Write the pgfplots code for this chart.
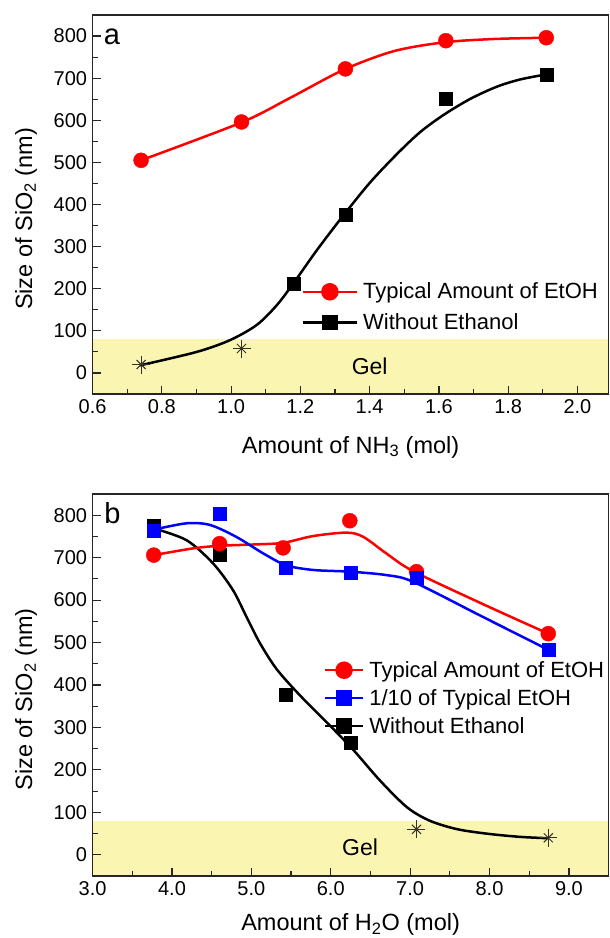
\documentclass[border=0pt]{standalone}
\usepackage{fontspec}
\setmainfont{Liberation Sans}
\usepackage{pgfplots}
\pgfplotsset{compat=1.18}
\definecolor{gel}{RGB}{250,246,178}
\definecolor{myred}{RGB}{255,0,0}
\definecolor{myblue}{RGB}{0,0,255}
\definecolor{stargray}{RGB}{50,50,40}
\pgfplotsset{
  base/.style={
    scale only axis, width=516pt,
    axis on top,
    axis line style={line width=1.3pt, black!85},
    tick align=inside, tick pos=left,
    major tick length=8pt, minor tick length=5pt,
    every tick/.style={black!85, line width=1.2pt},
    ymin=-50, ymax=850, ytick={0,100,...,800}, minor y tick num=1,
    /pgf/number format/assume math mode=true,
    tick label style={font=\fontsize{20}{24}\selectfont},
    yticklabel style={xshift=-2pt},
    xticklabel style={yshift=-2pt, /pgf/number format/fixed, /pgf/number format/fixed zerofill, /pgf/number format/precision=1},
    ylabel={Size of SiO\textsubscript{2} (nm)},
    every axis y label/.style={at={(rel axis cs:-0.129,0.462)}, rotate=90, anchor=center, font=\fontsize{23.5}{28}\selectfont},
    legend cell align=left,
    legend style={draw=none, fill=none, inner sep=0pt, font=\fontsize{22}{26}\selectfont,
      /tikz/every odd column/.append style={column sep=3pt}},
  },
  curve/.style={smooth, line width=2.5pt, no marks, forget plot},
  stars/.style={only marks, forget plot, mark options={line width=1pt, stargray}},
  dots/.style={only marks, forget plot},
}
\begin{document}
\begin{tikzpicture}
\useasboundingbox (0,0) rectangle (610pt,938pt);
% ---------------- panel a
\begin{axis}[base,
  at={(92.6pt,544pt)}, anchor=south west, height=379pt,
  xmin=0.6, xmax=2.09, xtick={0.6,0.8,...,2.01}, minor x tick num=1,
  xlabel={Amount of NH\textsubscript{3} (mol)},
  every axis x label/.style={at={(rel axis cs:0.5,-0.14)}, anchor=center, font=\fontsize{23.5}{28}\selectfont},
  legend style={at={(axis cs:1.203,156)}, anchor=west, row sep=9.5pt},
  legend image code/.code={\draw[mark repeat=2,mark phase=2,#1] plot coordinates {(0pt,0pt) (27pt,0pt) (54pt,0pt)};},
]
\addplot[fill=gel, draw=none, forget plot] coordinates {(0.6,-50) (2.09,-50) (2.09,80) (0.6,80)} -- cycle;
\addplot[curve, black] coordinates {(0.737,18) (0.901,50) (0.997,78) (1.074,114) (1.132,161) (1.18,213) (1.248,292) (1.325,375) (1.402,453) (1.479,520) (1.546,572) (1.614,613) (1.691,651) (1.768,680) (1.835,697) (1.91,709)};
\addplot[dots, mark=square*, mark size=6.5pt, black] coordinates {(1.18,212) (1.33,376) (1.62,652) (1.91,709)};
\addplot[stars, mark=+, mark size=9pt] coordinates {(0.74,20) (1.03,58)};
\addplot[stars, mark=x, mark size=6.4pt] coordinates {(0.74,20) (1.03,58)};
\addplot[curve, myred] coordinates {(0.74,505) (1.03,595) (1.17,653) (1.325,720) (1.469,764) (1.614,785) (1.758,793) (1.91,796)};
\addplot[dots, mark=*, mark size=7.5pt, myred] coordinates {(0.74,505) (1.03,596) (1.33,722) (1.62,789) (1.91,796)};
\addlegendimage{myred, line width=2.5pt, mark=*, mark size=7.5pt}
\addlegendentry{Typical Amount of EtOH}
\addlegendimage{black, line width=2.5pt, mark=square*, mark size=6.5pt}
\addlegendentry{Without Ethanol}
\node[font=\fontsize{23}{28}\selectfont] at (axis cs:1.4,15) {Gel};
\node[font=\fontsize{29}{34}\selectfont] at (axis cs:0.656,797) {a};
\end{axis}
% ---------------- panel b
\begin{axis}[base,
  at={(92.6pt,62pt)}, anchor=south west, height=382pt,
  xmin=3, xmax=9.5, xtick={3,4,...,9}, minor x tick num=1,
  xlabel={Amount of H\textsubscript{2}O (mol)},
  every axis x label/.style={at={(rel axis cs:0.5,-0.127)}, anchor=center, font=\fontsize{23.5}{28}\selectfont},
  legend style={at={(axis cs:5.91,369)}, anchor=west, row sep=6.5pt},
  legend image code/.code={\draw[mark repeat=2,mark phase=2,#1] plot coordinates {(0pt,0pt) (19pt,0pt) (38pt,0pt)};},
]
\addplot[fill=gel, draw=none, forget plot] coordinates {(3,-50) (9.5,-50) (9.5,80) (3,80)} -- cycle;
\addplot[curve, black] coordinates {(3.77,769) (4.185,741) (4.52,686) (4.77,623) (4.94,560) (5.11,498) (5.32,437) (5.61,376) (5.95,312) (6.28,248) (6.62,175) (6.96,112) (7.25,80) (7.6,60) (8.0,49) (8.4,42) (8.74,39)};
\addplot[dots, mark=square*, mark size=6.5pt, black] coordinates {(3.77,775) (4.6,706) (5.43,378) (6.25,263)};
\addplot[stars, mark=+, mark size=9pt] coordinates {(7.08,60) (8.74,40)};
\addplot[stars, mark=x, mark size=6.4pt] coordinates {(7.08,60) (8.74,40)};
\addplot[curve, myred] coordinates {(3.77,706) (4.27,722) (4.6,728) (5.02,731) (5.4,735) (5.78,751) (6.2,759) (6.41,749) (6.7,710) (7.04,668) (7.9,592) (8.74,521)};
\addplot[dots, mark=*, mark size=7.5pt, myred] coordinates {(3.77,706) (4.6,733) (5.40,723) (6.24,787) (7.08,667) (8.74,521)};
\addplot[curve, myblue] coordinates {(3.77,766) (4.185,781) (4.48,777) (4.81,749) (5.15,710) (5.44,682) (5.78,671) (6.24,667) (6.7,659) (7.04,643) (7.9,562) (8.74,483)};
\addplot[dots, mark=square*, mark size=6.5pt, myblue] coordinates {(3.77,763) (4.6,803) (5.43,677) (6.25,665) (7.08,652) (8.74,483)};
\addlegendimage{myred, line width=2.5pt, mark=*, mark size=7.5pt}
\addlegendentry{Typical Amount of EtOH}
\addlegendimage{myblue, line width=2.5pt, mark=square*, mark size=6.5pt}
\addlegendentry{1/10 of Typical EtOH}
\addlegendimage{black, line width=2.5pt, mark=square*, mark size=6.5pt}
\addlegendentry{Without Ethanol}
\node[font=\fontsize{23}{28}\selectfont] at (axis cs:6.37,18) {Gel};
\node[font=\fontsize{29}{34}\selectfont] at (axis cs:3.25,804) {b};
\end{axis}
\end{tikzpicture}
\end{document}
